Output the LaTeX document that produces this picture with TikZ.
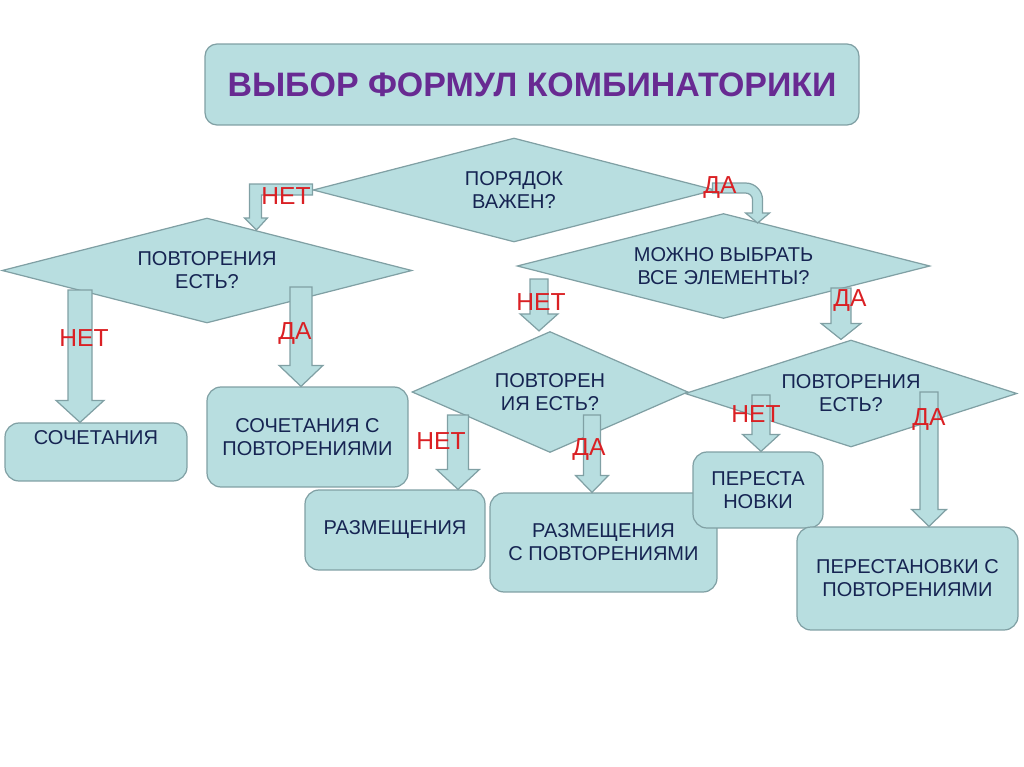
\documentclass[tikz,border=0pt]{standalone}
\usepackage{fontspec}
\setmainfont{Liberation Sans}
\usetikzlibrary{shapes.geometric}
\usetikzlibrary{calc}
\definecolor{boxfill}{RGB}{184,222,224}
\definecolor{boxline}{RGB}{128,160,164}
\definecolor{boxtext}{RGB}{22,36,82}
\definecolor{answred}{RGB}{218,32,36}
\definecolor{titlepurple}{RGB}{104,42,146}
\tikzset{
	box/.style={draw=boxline, fill=boxfill, line width=0.7pt, rounded corners=0.28cm, align=center, text=boxtext, font=\fontsize{11.4}{13}\selectfont, inner sep=0pt},
	decision/.style={diamond, draw=boxline, fill=boxfill, line width=0.7pt, align=center, text=boxtext, font=\fontsize{11.4}{13}\selectfont, inner sep=0pt},
	fatarrow/.style={draw=boxline, fill=boxfill, line width=0.7pt},
	answer/.style={text=answred, font=\fontsize{14}{16}\selectfont, inner sep=0pt}
}
% start, target, half shaft, half head, head length
\newcommand{\fatdown}[5]{%
	\coordinate (fattip) at (#1 |- #2);
	\draw[fatarrow] ($(#1)+(-#3,0)$) -- ($(fattip)+(-#3,-#5)$) -- ($(fattip)+(-#4,-#5)$) -- (fattip) -- ($(fattip)+(#4,-#5)$) -- ($(fattip)+(#3,-#5)$) -- ($(#1)+(#3,0)$) -- cycle;}
\begin{document}
\begin{tikzpicture}[x=0.02cm, y=-0.02cm]
		\useasboundingbox (0,0) rectangle (1024,767);
		\node[box, rounded corners=0.24cm, minimum width=13.08cm, minimum height=1.62cm, text=titlepurple, font=\fontsize{19.3}{22}\selectfont\bfseries] (title) at (532,84.5) {ВЫБОР ФОРМУЛ КОМБИНАТОРИКИ};
		% questions
		\node[decision, minimum width=8.04cm, minimum height=2.08cm, aspect=3.87] (order) at (514,190) {ПОРЯДОК\\ВАЖЕН?};
		\node[decision, minimum width=8.2cm, minimum height=2.1cm, aspect=3.9] (repA) at (207,270.5) {ПОВТОРЕНИЯ\\ЕСТЬ?};
		\node[decision, minimum width=8.26cm, minimum height=2.1cm, aspect=3.93] (all) at (723.5,266) {МОЖНО ВЫБРАТЬ\\ВСЕ ЭЛЕМЕНТЫ?};
		\node[decision, minimum width=5.52cm, minimum height=2.42cm, aspect=2.28] (repB) at (550,392) {ПОВТОРЕН\\ИЯ ЕСТЬ?};
		\node[decision, minimum width=6.64cm, minimum height=2.14cm, aspect=3.1] (repC) at (851,393.5) {ПОВТОРЕНИЯ\\ЕСТЬ?};
		% formulas
		\node[box, minimum width=3.64cm, minimum height=1.16cm, text depth=0.56cm] (soch) at (96,452) {СОЧЕТАНИЯ};
		\node[box, minimum width=4.02cm, minimum height=2cm] (sochp) at (307.5,437) {СОЧЕТАНИЯ С\\ПОВТОРЕНИЯМИ};
		\node[box, minimum width=3.6cm, minimum height=1.6cm] (razm) at (395,530) {РАЗМЕЩЕНИЯ};
		\node[box, minimum width=4.54cm, minimum height=1.98cm] (razmp) at (603.5,542.5) {РАЗМЕЩЕНИЯ\\С ПОВТОРЕНИЯМИ};
		\node[box, minimum width=2.6cm, minimum height=1.52cm] (perest) at (758,490) {ПЕРЕСТА\\НОВКИ};
		\node[box, minimum width=4.42cm, minimum height=2.06cm] (perestp) at (907.5,578.5) {ПЕРЕСТАНОВКИ С\\ПОВТОРЕНИЯМИ};
		% bent arrows
		\draw[fatarrow] (order.west) ++(0,-6) -- ++(-63,0) -- ++(0,34) -- ++(-5,0) -- ++(12,12) -- ++(11,-12) -- ++(-6,0) -- ++(0,-23) -- ++(51,0) -- cycle;
		\draw[fatarrow] (order.east) ++(-3,-7) -- ++(33,0) arc[start angle=-90, end angle=0, radius=17] -- ++(0,13) -- ++(7,0) -- ++(-12,10) -- ++(-12,-10) -- ++(7,0) -- ++(0,-13) arc[start angle=0, end angle=-90, radius=7] -- ++(-33,0) -- cycle;
		% straight arrows
		\coordinate (sA1) at (80,290);
		\coordinate (sA2) at (301,287);
		\coordinate (sB1) at (539,279);
		\coordinate (sB2) at (841,288);
		\coordinate (sC1) at (458,415);
		\coordinate (sC2) at (592,415);
		\coordinate (sD1) at (761,395);
		\coordinate (sD2) at (929,392);
		\fatdown{sA1}{soch.north}{12}{24}{22}
		\fatdown{sA2}{sochp.north}{11}{22}{21}
		\fatdown{sB1}{repB.north}{9}{19}{17}
		\fatdown{sB2}{repC.north}{10}{20}{16}
		\fatdown{sC1}{razm.north}{10.5}{21.5}{20}
		\fatdown{sC2}{razmp.north}{8.5}{16.5}{17}
		\fatdown{sD1}{perest.north}{9}{18.5}{17}
		\fatdown{sD2}{perestp.north}{9}{17.5}{17}
		% answers
		\node[answer] (noA) at (286,196) {НЕТ};
		\node[answer] (yesA) at (720,187) {ДА};
		\node[answer] (noB) at (84,338) {НЕТ};
		\node[answer] (yesB) at (295,333) {ДА};
		\node[answer] (noC) at (541,302) {НЕТ};
		\node[answer] (yesC) at (850,300) {ДА};
		\node[answer] (noD) at (441,441) {НЕТ};
		\node[answer] (yesD) at (589,449) {ДА};
		\node[answer] (noE) at (756,414) {НЕТ};
		\node[answer] (yesE) at (929,419) {ДА};
\end{tikzpicture}
\end{document}
